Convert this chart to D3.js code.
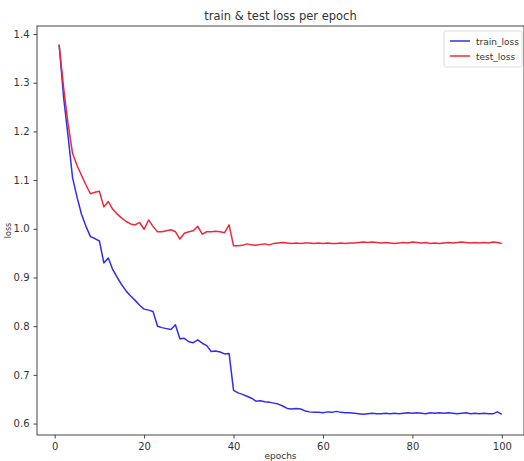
<!DOCTYPE html>
<html>
<head>
<meta charset="utf-8">
<script src="https://cdn.jsdelivr.net/npm/d3@7"></script>
<style>
  body { margin: 0; background: #fff; }
  text { font-family: "DejaVu Sans", sans-serif; fill: #333; }
</style>
</head>
<body>
<svg id="chart"></svg>
<script>
// per-epoch losses
const trainLoss = [
  1.378, 1.270, 1.190, 1.105, 1.065, 1.030, 1.005, 0.984, 0.980, 0.975,
  0.930, 0.940, 0.916, 0.900, 0.885, 0.872, 0.862, 0.853, 0.843, 0.835,
  0.833, 0.830, 0.800, 0.797, 0.795, 0.793, 0.803, 0.774, 0.775, 0.768,
  0.766, 0.772, 0.765, 0.760, 0.748, 0.749, 0.747, 0.743, 0.744, 0.668,
  0.663, 0.660, 0.656, 0.652, 0.646, 0.647, 0.645, 0.644, 0.642, 0.640,
  0.636, 0.631, 0.630, 0.631, 0.630, 0.626, 0.624, 0.623, 0.623, 0.622,
  0.624, 0.623, 0.625, 0.623, 0.622, 0.622, 0.621, 0.620, 0.619, 0.620,
  0.621, 0.620, 0.620, 0.621, 0.620, 0.621, 0.620, 0.621, 0.622, 0.621,
  0.622, 0.621, 0.620, 0.622, 0.621, 0.622, 0.621, 0.622, 0.621, 0.620,
  0.621, 0.622, 0.620, 0.621, 0.620, 0.621, 0.620, 0.620, 0.624, 0.619
];
const testLoss = [
  1.378, 1.290, 1.215, 1.155, 1.130, 1.110, 1.090, 1.072, 1.075, 1.077,
  1.045, 1.056, 1.040, 1.030, 1.022, 1.015, 1.010, 1.008, 1.013, 0.999,
  1.018, 1.005, 0.994, 0.994, 0.996, 0.998, 0.994, 0.979, 0.991, 0.994,
  0.996, 1.005, 0.989, 0.994, 0.994, 0.995, 0.994, 0.992, 1.008, 0.965,
  0.965, 0.966, 0.969, 0.967, 0.966, 0.968, 0.969, 0.967, 0.970, 0.971,
  0.972, 0.971, 0.970, 0.971, 0.970, 0.971, 0.971, 0.970, 0.971, 0.970,
  0.971, 0.970, 0.970, 0.971, 0.970, 0.971, 0.971, 0.972, 0.973, 0.972,
  0.973, 0.972, 0.971, 0.972, 0.971, 0.970, 0.971, 0.972, 0.971, 0.973,
  0.972, 0.971, 0.972, 0.970, 0.971, 0.970, 0.971, 0.972, 0.971, 0.972,
  0.973, 0.972, 0.971, 0.972, 0.971, 0.972, 0.971, 0.973, 0.972, 0.970
];
const epochs = d3.range(1, trainLoss.length + 1);
const xTicks = [0, 20, 40, 60, 80, 100];
const yTicks = [0.6, 0.7, 0.8, 0.9, 1.0, 1.1, 1.2, 1.3, 1.4];
const seriesNames = ['train_loss', 'test_loss'];
const seriesColors = ['#2f2ff0', '#f0283c'];

const width = 524, height = 461;
const margin = {left: 37, top: 26, right: 0, bottom: 26};
const iw = width - margin.left - margin.right;
const ih = height - margin.top - margin.bottom;

const svg = d3.select('#chart').attr('width', width).attr('height', height);
const g = svg.append('g').attr('transform', `translate(${margin.left},${margin.top})`);

const x = d3.scaleLinear().domain([-3.95, 104.95]).range([0, iw]);
const y = d3.scaleLinear().domain([0.5765, 1.4165]).range([ih, 0]);

// axes
const xAxis = g.append('g').attr('transform', `translate(0,${ih})`)
  .call(d3.axisBottom(x).tickValues(xTicks).tickSize(3.5).tickPadding(4).tickSizeOuter(0));
const yAxis = g.append('g')
  .call(d3.axisLeft(y).tickValues(yTicks).tickFormat(d3.format('.1f')).tickSize(3.5).tickPadding(4).tickSizeOuter(0));
[xAxis, yAxis].forEach(a => {
  a.select('.domain').remove();
  a.selectAll('line').attr('stroke', '#444');
  a.selectAll('text').attr('font-size', 10).attr('fill', '#444');
});

// frame
g.append('rect').attr('width', iw).attr('height', ih)
  .attr('fill', 'none').attr('stroke', '#444').attr('stroke-width', 1);

// lines
const line = d3.line().x((d, i) => x(epochs[i])).y(d => y(d));
[trainLoss, testLoss].forEach((s, k) => {
  g.append('path').datum(s).attr('d', line)
    .attr('fill', 'none').attr('stroke', seriesColors[k])
    .attr('stroke-width', 1.5).attr('stroke-linejoin', 'round');
});

// title and labels
svg.append('text').attr('x', margin.left + iw / 2).attr('y', 20)
  .attr('text-anchor', 'middle').attr('font-size', 11.5).text('train & test loss per epoch');
svg.append('text').attr('x', margin.left + iw / 2).attr('y', 459)
  .attr('text-anchor', 'middle').attr('font-size', 9).text('epochs');
svg.append('text').attr('transform', `translate(11,${margin.top + ih / 2}) rotate(-90)`)
  .attr('text-anchor', 'middle').attr('font-size', 8).text('loss');

// legend
const lg = g.append('g').attr('transform', `translate(${iw - 80},5)`);
lg.append('rect').attr('width', 78).attr('height', 36).attr('rx', 2)
  .attr('fill', '#fff').attr('stroke', '#ddd');
seriesNames.forEach((n, i) => {
  lg.append('line').attr('x1', 6).attr('x2', 26).attr('y1', 10 + i * 15).attr('y2', 10 + i * 15)
    .attr('stroke', seriesColors[i]).attr('stroke-width', 1.5);
  lg.append('text').attr('x', 32).attr('y', 13.5 + i * 15).attr('font-size', 9).text(n);
});
</script>
</body>
</html>
